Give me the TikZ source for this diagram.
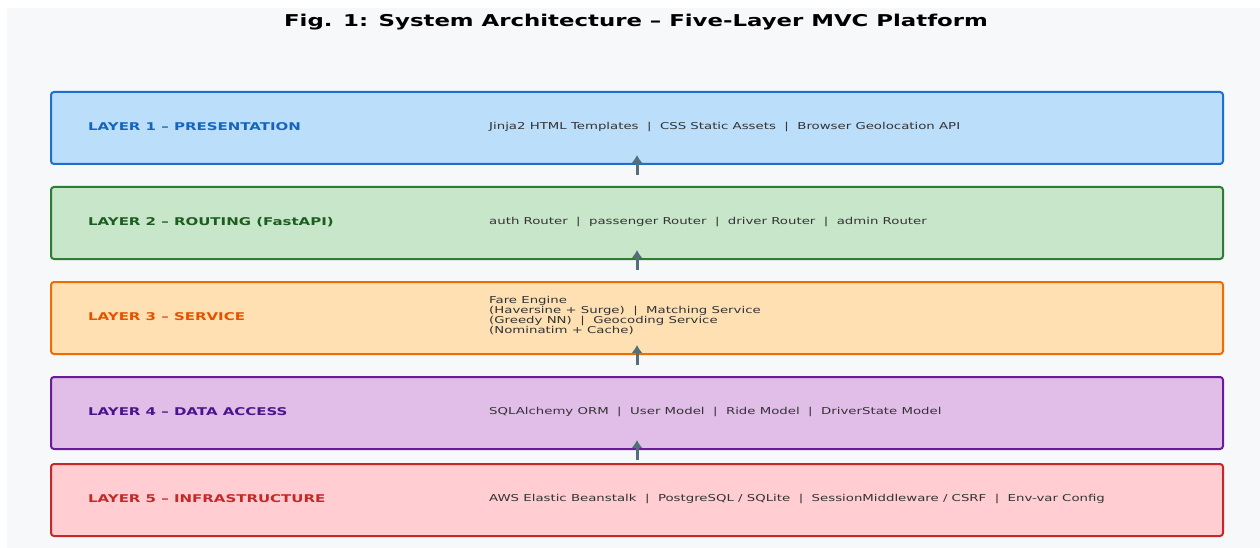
\documentclass[tikz,border=0pt]{standalone}
\usepackage{fontspec}
\setmainfont{DejaVu Sans}[FakeStretch=1.4]
\usetikzlibrary{arrows.meta}
\definecolor{canvas}{HTML}{F7F8FA}
\definecolor{bodytxt}{HTML}{333333}
\definecolor{arrowc}{HTML}{546E7A}
\definecolor{fillA}{HTML}{BBDEFB}\definecolor{lineA}{HTML}{1E70CC}\definecolor{txtA}{HTML}{1565C0}
\definecolor{fillB}{HTML}{C8E6C9}\definecolor{lineB}{HTML}{2E7D32}\definecolor{txtB}{HTML}{1B5E20}
\definecolor{fillC}{HTML}{FFE0B2}\definecolor{lineC}{HTML}{EF6C00}\definecolor{txtC}{HTML}{E65100}
\definecolor{fillD}{HTML}{E1BEE7}\definecolor{lineD}{HTML}{6A1B9A}\definecolor{txtD}{HTML}{4A148C}
\definecolor{fillE}{HTML}{FFCDD2}\definecolor{lineE}{HTML}{C62828}\definecolor{txtE}{HTML}{C62828}
\tikzset{
  layerbox/.style={draw, line width=2pt, rounded corners=3pt, minimum width=1172pt, minimum height=72pt, inner sep=0pt, anchor=north west},
  layername/.style={anchor=west, inner sep=0pt, font=\fontsize{10.7}{12}\selectfont\bfseries},
  layeritems/.style={anchor=west, inner sep=0pt, align=left, text=bodytxt, font=\fontsize{9.5}{10}\selectfont},
  uparrow/.style={draw=arrowc, line width=3pt, -{Latex[length=8pt,width=11pt]}},
}
\newcommand{\sep}{\ \ |\ \ }
\begin{document}
\begin{tikzpicture}[x=1pt,y=-1pt]
  \useasboundingbox (0,0) rectangle (1260,548);
  \fill[canvas] (7,8) rectangle (1260,548);
  \node[anchor=base, inner sep=0pt, font=\fontsize{16.3}{19}\selectfont\bfseries] (title) at (636,26.7)
    {Fig. 1: System Architecture -- Five-Layer MVC Platform};

  % layer boxes
  \node[layerbox, fill=fillA, draw=lineA] (L1) at (50,91) {};
  \node[layerbox, fill=fillB, draw=lineB] (L2) at (50,186) {};
  \node[layerbox, fill=fillC, draw=lineC] (L3) at (50,281) {};
  \node[layerbox, fill=fillD, draw=lineD] (L4) at (50,376) {};
  \node[layerbox, fill=fillE, draw=lineE] (L5) at (50,463) {};

  % layer names
  \node[layername, text=txtA] (n1) at (88,127) {LAYER 1 -- PRESENTATION};
  \node[layername, text=txtB] (n2) at (88,222) {LAYER 2 -- ROUTING (FastAPI)};
  \node[layername, text=txtC] (n3) at (88,317) {LAYER 3 -- SERVICE};
  \node[layername, text=txtD] (n4) at (88,412) {LAYER 4 -- DATA ACCESS};
  \node[layername, text=txtE] (n5) at (88,499) {LAYER 5 -- INFRASTRUCTURE};

  % layer contents
  \node[layeritems] (c1) at (489,127) {Jinja2 HTML Templates\sep CSS Static Assets\sep Browser Geolocation API};
  \node[layeritems] (c2) at (489,222) {auth Router\sep passenger Router\sep driver Router\sep admin Router};
  \node[layeritems] (c3) at (489,316) {Fare Engine\\(Haversine + Surge)\sep Matching Service\\(Greedy NN)\sep Geocoding Service\\(Nominatim + Cache)};
  \node[layeritems] (c4) at (489,412) {SQLAlchemy ORM\sep User Model\sep Ride Model\sep DriverState Model};
  \node[layeritems] (c5) at (489,499) {AWS Elastic Beanstalk\sep PostgreSQL / SQLite\sep SessionMiddleware / CSRF\sep Env-var Config};

  % upward flow between layers
  \foreach \u in {L1,L2,L3,L4}
    \draw[uparrow] ([yshift=-10pt]\u.south) -- ([yshift=10pt]\u.south);
\end{tikzpicture}
\end{document}
